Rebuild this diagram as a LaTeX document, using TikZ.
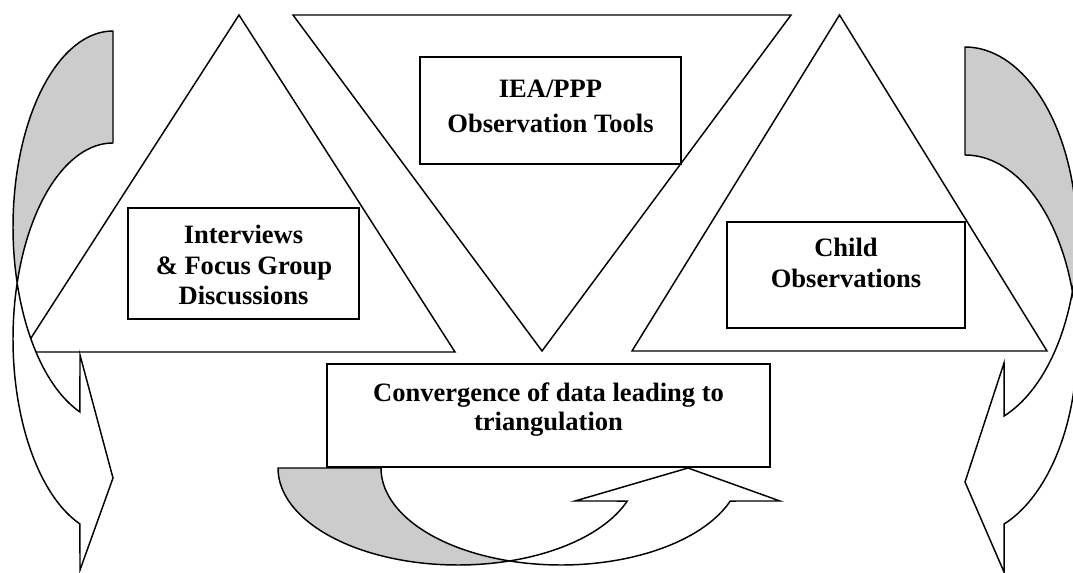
\documentclass[tikz,border=0pt]{standalone}
\usepackage{fontspec}
\setmainfont{Liberation Serif}
\definecolor{backgray}{HTML}{CCCCCC}
\begin{document}
\begin{tikzpicture}[x=0.75pt,y=-0.75pt,
  outline/.style={draw=black,line width=1.1pt,line join=miter},
  arrowback/.style={draw=black,line width=1.1pt,line join=round,fill=backgray},
  arrowfront/.style={draw=black,line width=1.1pt,line join=miter,fill=white},
  txtbox/.style={draw=black,line width=1.1pt,fill=white,rectangle,inner sep=0pt},
  lbl/.style={font=\fontsize{19.9}{23}\selectfont\bfseries,anchor=base,inner sep=0pt}
]
\clip (0,0) rectangle (1073,573);
\fill[white] (0,0) rectangle (1073,573);

% ---- triangles ----
\coordinate (LTl) at (22,352);
\coordinate (LTr) at (455,352);
\coordinate (LTa) at (239,15);
\coordinate (MTl) at (293,15);
\coordinate (MTr) at (791,15);
\coordinate (MTa) at (542,351);
\coordinate (RTl) at (632,351);
\coordinate (RTr) at (1047,351);
\coordinate (RTa) at (839.5,15);
\draw[outline] (LTl) -- (LTr) -- (LTa) -- cycle;
\draw[outline] (MTl) -- (MTr) -- (MTa) -- cycle;
\draw[outline] (RTl) -- (RTr) -- (RTa) -- cycle;

% ---- left curved arrow ----
\filldraw[arrowback] (113,31)
  -- plot[domain=270:163.4,samples=60] ({113+100*cos(\x)},{227+196*sin(\x)})
  -- plot[domain=196.6:270,samples=60] ({113+100*cos(\x)},{339+196*sin(\x)})
  -- cycle;
\filldraw[arrowfront]
  plot[domain=163.4:109.3,samples=60] ({113+100*cos(\x)},{227+196*sin(\x)})
  -- (80,355) -- (113,478) -- (80,570)
  -- plot[domain=109.3:196.6,samples=60] ({113+100*cos(\x)},{339+196*sin(\x)})
  -- cycle;

% ---- right curved arrow ----
\filldraw[arrowback] (965,47)
  -- plot[domain=270:163.53,samples=60] ({965-112*cos(\x)},{237.5+190.5*sin(\x)})
  -- plot[domain=196.47:270,samples=60] ({965-112*cos(\x)},{345.5+190.5*sin(\x)})
  -- cycle;
\filldraw[arrowfront]
  plot[domain=163.53:110.44,samples=60] ({965-112*cos(\x)},{237.5+190.5*sin(\x)})
  -- (1004,363) -- (965,482) -- (1004,572)
  -- plot[domain=110.44:196.47,samples=60] ({965-112*cos(\x)},{345.5+190.5*sin(\x)})
  -- cycle;

% ---- bottom curved arrow ----
\filldraw[arrowback] (278,468)
  -- plot[domain=180:73.38,samples=60] ({458+180*cos(\x)},{468+97*sin(\x)})
  -- plot[domain=106.62:180,samples=60] ({561+180*cos(\x)},{468+97*sin(\x)})
  -- cycle;
\filldraw[arrowfront]
  plot[domain=73.38:19.9,samples=60] ({458+180*cos(\x)},{468+97*sin(\x)})
  -- (575,501) -- (688,468) -- (780,501)
  -- plot[domain=19.9:106.62,samples=60] ({561+180*cos(\x)},{468+97*sin(\x)})
  -- cycle;

% ---- boxes ----
\node[txtbox,minimum width=195.75pt,minimum height=80.25pt] (iea) at (550.5,110.5) {};
\node[txtbox,minimum width=173.25pt,minimum height=83.25pt] (intv) at (243.5,263.5) {};
\node[txtbox,minimum width=178.5pt,minimum height=79.5pt] (child) at (846,275) {};
\node[txtbox,minimum width=332.25pt,minimum height=77.25pt] (conv) at (548.5,415.5) {};

% ---- texts ----
\node[lbl] (iea1) at (550.5,97.6) {IEA/PPP};
\node[lbl] (iea2) at (550.5,132.8) {Observation Tools};
\node[lbl] (intv1) at (243.5,243.3) {Interviews};
\node[lbl] (intv2) at (244,275) {\& Focus Group};
\node[lbl] (intv3) at (243.5,305) {Discussions};
\node[lbl] (child1) at (846,257) {Child};
\node[lbl] (child2) at (846,287) {Observations};
\node[lbl] (conv1) at (548.5,401) {Convergence of data leading to};
\node[lbl] (conv2) at (548.5,430) {triangulation};
\end{tikzpicture}
\end{document}
